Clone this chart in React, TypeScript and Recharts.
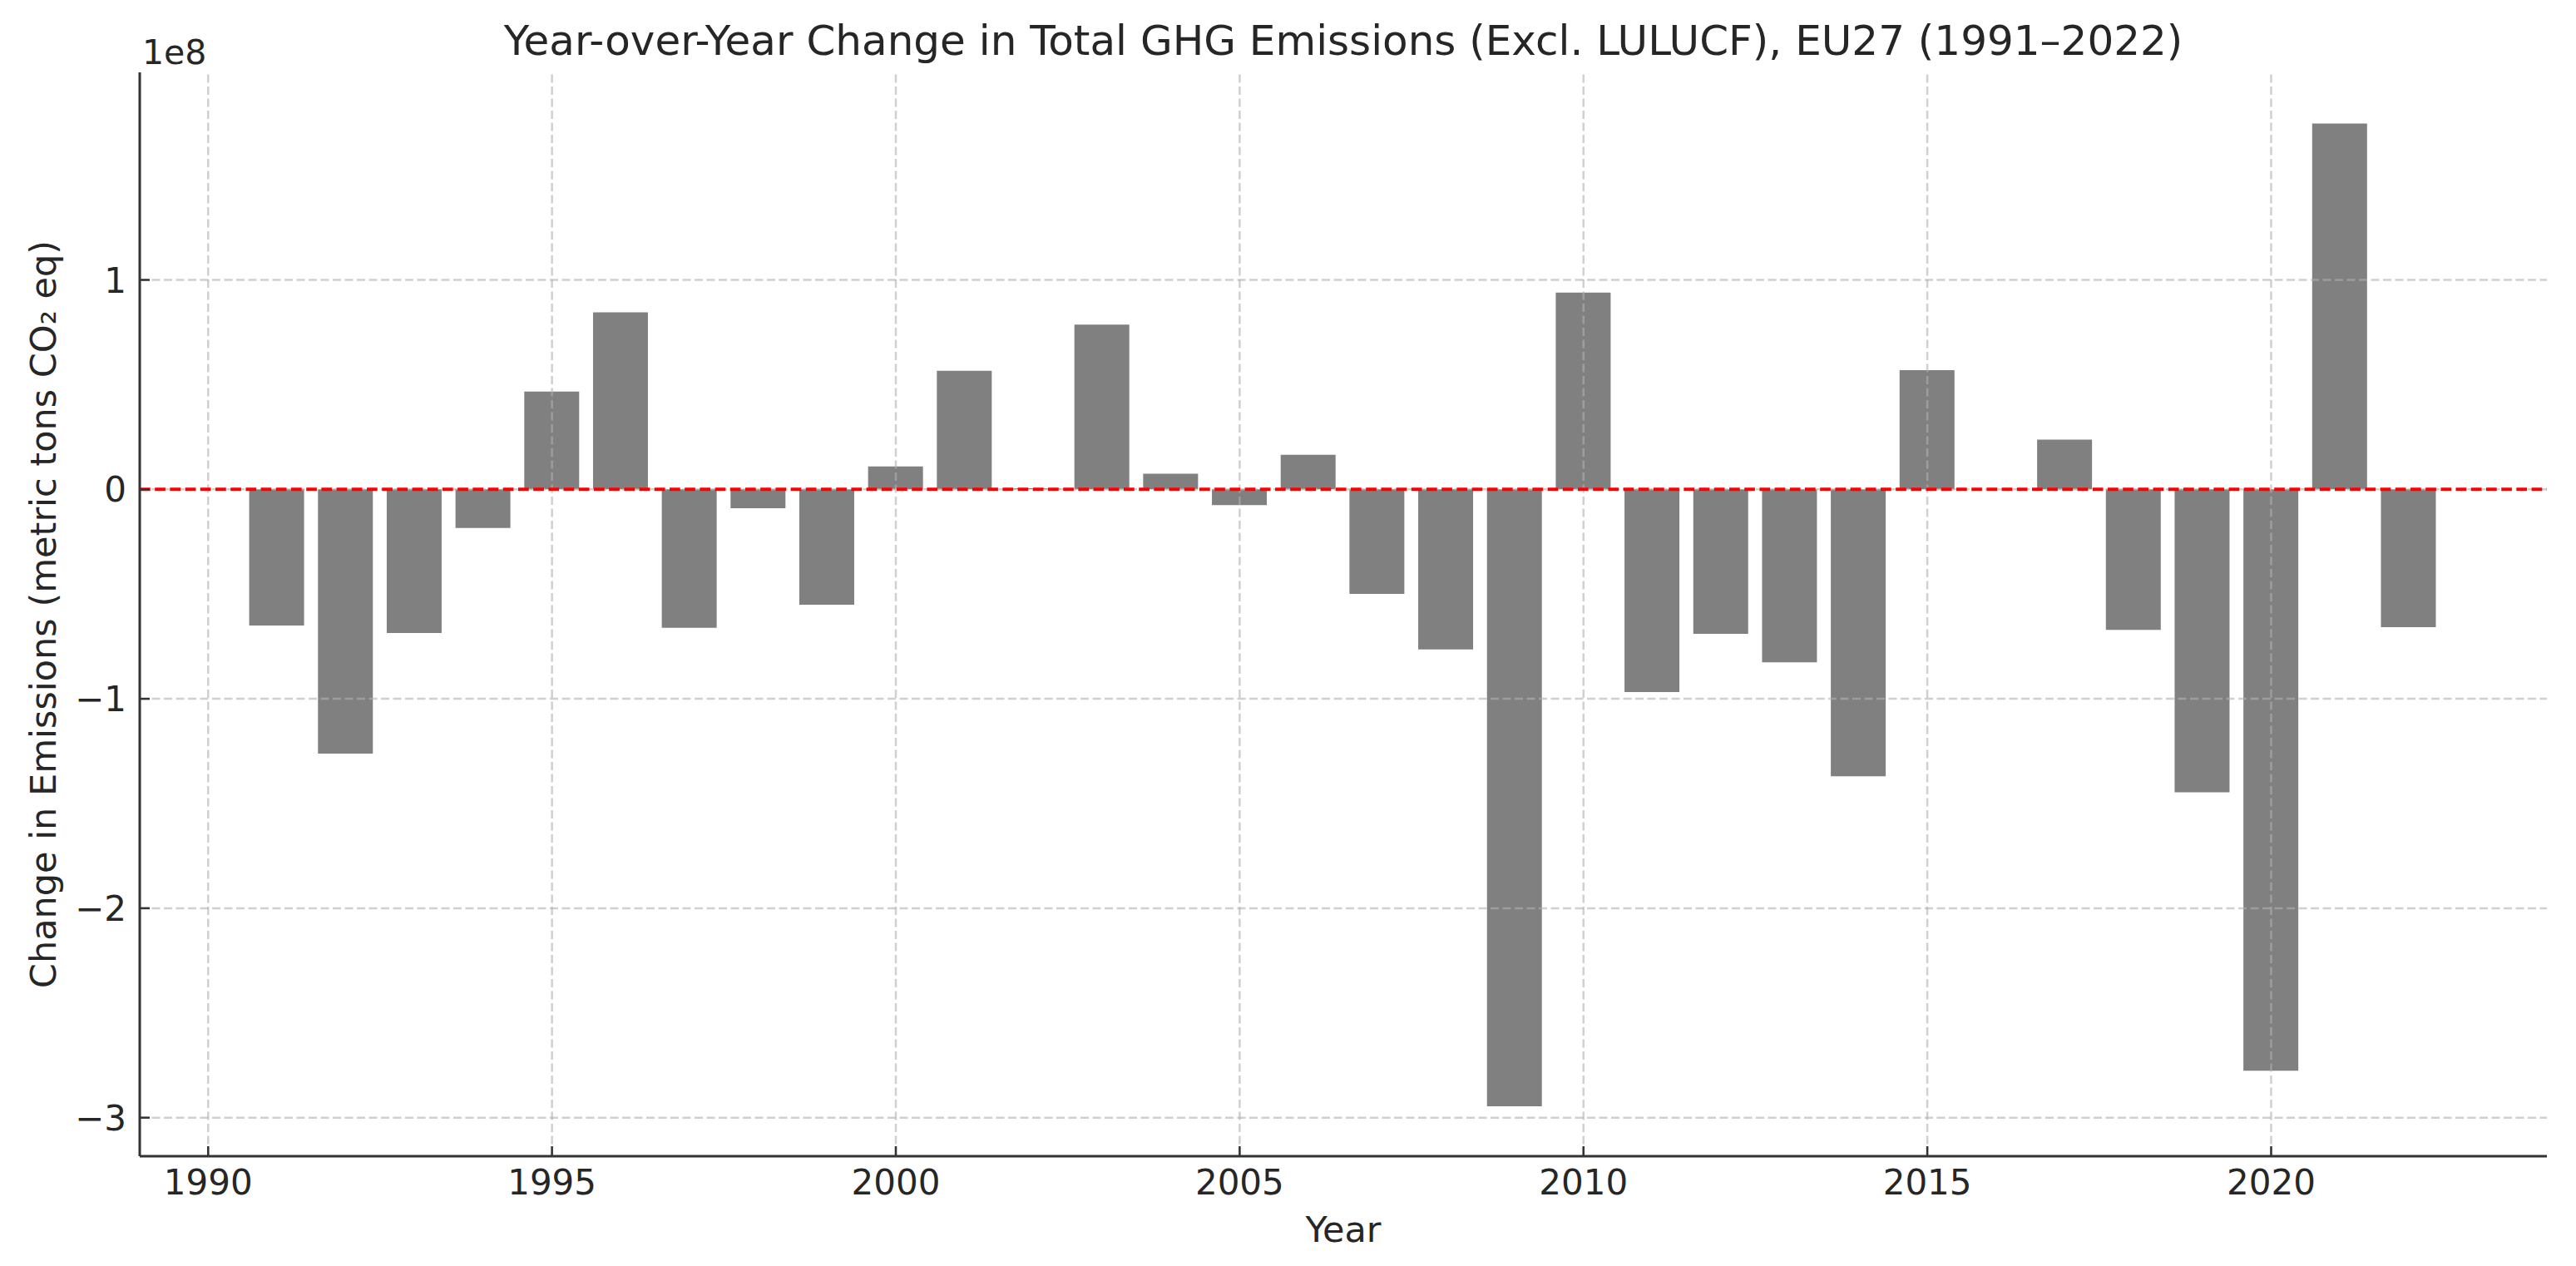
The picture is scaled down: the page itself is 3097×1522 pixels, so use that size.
import React from 'react';
import { BarChart, Bar, XAxis, YAxis, ReferenceLine } from 'recharts';

// ---- data ----
const years: number[] = [
  1991, 1992, 1993, 1994, 1995, 1996, 1997, 1998, 1999, 2000,
  2001, 2002, 2003, 2004, 2005, 2006, 2007, 2008, 2009, 2010,
  2011, 2012, 2013, 2014, 2015, 2016, 2017, 2018, 2019, 2020,
  2021, 2022,
];

// Year-over-year change in total GHG emissions, metric tons CO2 eq
const changes: number[] = [
  -6.50e7, -1.262e8, -6.86e7, -1.84e7, 4.67e7, 8.45e7, -6.61e7, -9.0e6, -5.51e7, 1.09e7,
  5.66e7, 5.0e5, 7.87e7, 7.5e6, -7.5e6, 1.65e7, -4.99e7, -7.64e7, -2.946e8, 9.40e7,
  -9.68e7, -6.90e7, -8.26e7, -1.370e8, 5.69e7, 0, 2.38e7, -6.71e7, -1.446e8, -2.776e8,
  1.747e8, -6.58e7,
];

const xTicks: number[] = [1990, 1995, 2000, 2005, 2010, 2015, 2020];
const yTicks: number[] = [-3e8, -2e8, -1e8, 0, 1e8];
const xDomain: number[] = [1989.005, 2024.01];
const yDomain: number[] = [-3.184e8, 1.991e8];

const title = 'Year-over-Year Change in Total GHG Emissions (Excl. LULUCF), EU27 (1991–2022)';
const xLabel = 'Year';
const yLabel = 'Change in Emissions (metric tons CO₂ eq)';
const offsetLabel = '1e8';

const data = years.map((year, i) => ({ year, change: changes[i] }));

const FONT = '"DejaVu Sans", sans-serif';
const TEXT = '#262626';
const SPINE = '#333333';
const GRID = { stroke: '#b0b0b0', strokeOpacity: 0.6, strokeWidth: 2.5, strokeDasharray: '10 4.5' };

const fmtY = (v: number) => {
  const n = Math.round(v / 1e8);
  return n < 0 ? `−${Math.abs(n)}` : `${n}`;
};

const XTick = (props: any) => {
  const { x, y, payload } = props;
  return (
    <g>
      <line x1={x} x2={x} y1={y} y2={y - 12} stroke={SPINE} strokeWidth={2.5} />
      <text x={x} y={y + 46} textAnchor="middle" fontSize={42} fontFamily={FONT} fill={TEXT}>
        {payload.value}
      </text>
    </g>
  );
};

const YTick = (props: any) => {
  const { x, y, payload } = props;
  return (
    <g>
      <line x1={x} x2={x + 12} y1={y} y2={y} stroke={SPINE} strokeWidth={2.5} />
      <text x={x - 16} y={y + 15} textAnchor="end" fontSize={42} fontFamily={FONT} fill={TEXT}>
        {fmtY(payload.value)}
      </text>
    </g>
  );
};

const XLabel = (props: any) => {
  const vb = props.viewBox || { x: 168, y: 1390, width: 2894, height: 132 };
  return (
    <text x={vb.x + vb.width / 2} y={vb.y + 103} textAnchor="middle" fontSize={43} fontFamily={FONT} fill={TEXT}>
      {xLabel}
    </text>
  );
};

const YLabel = (props: any) => {
  const vb = props.viewBox || { x: 0, y: 87, width: 168, height: 1303 };
  const cx = vb.x + 67;
  const cy = vb.y + vb.height / 2;
  return (
    <text
      x={cx}
      y={cy}
      transform={`rotate(-90, ${cx}, ${cy})`}
      textAnchor="middle"
      fontSize={43}
      fontFamily={FONT}
      fill={TEXT}
    >
      {yLabel}
    </text>
  );
};

export default function App() {
  const W = 3097;
  const H = 1522;
  return (
    <div style={{ position: 'absolute', left: 0, top: 0, width: W, height: H, background: '#ffffff' }}>
      <BarChart
        width={W}
        height={H}
        data={data}
        margin={{ top: 87, right: 35, bottom: 0, left: 0 }}
      >
        <XAxis
          dataKey="year"
          type="number"
          domain={xDomain}
          allowDataOverflow
          ticks={xTicks}
          interval={0}
          height={132}
          tickSize={0}
          tickMargin={0}
          tickLine={false}
          tick={<XTick />}
          axisLine={{ stroke: SPINE, strokeWidth: 3 }}
          label={<XLabel />}
        />
        <YAxis
          type="number"
          domain={yDomain}
          allowDataOverflow
          ticks={yTicks}
          interval={0}
          width={168}
          tickSize={0}
          tickMargin={0}
          tickLine={false}
          tick={<YTick />}
          axisLine={{ stroke: SPINE, strokeWidth: 3 }}
          label={<YLabel />}
        />
        <Bar dataKey="change" fill="#808080" barSize={66} isAnimationActive={false} />
        {xTicks.map((t) => (
          <ReferenceLine key={`gx-${t}`} x={t} {...GRID} />
        ))}
        {yTicks.map((t) => (
          <ReferenceLine key={`gy-${t}`} y={t} {...GRID} />
        ))}
        <ReferenceLine y={0} stroke="#ff0000" strokeWidth={4} strokeDasharray="12.7 5.5" />
      </BarChart>
      <svg
        width={W}
        height={H}
        style={{ position: 'absolute', left: 0, top: 0, pointerEvents: 'none' }}
      >
        <text x={1615} y={66} textAnchor="middle" fontSize={50} fontFamily={FONT} fill={TEXT}>
          {title}
        </text>
        <text x={171} y={77} textAnchor="start" fontSize={41} fontFamily={FONT} fill={TEXT}>
          {offsetLabel}
        </text>
      </svg>
    </div>
  );
}
